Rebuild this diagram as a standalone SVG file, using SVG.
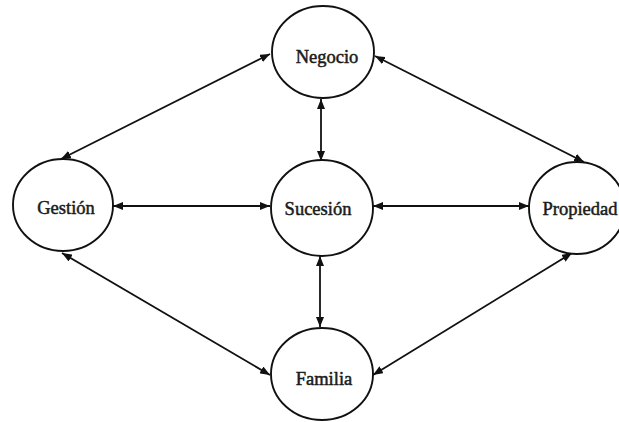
<svg xmlns="http://www.w3.org/2000/svg" width="619" height="422" viewBox="0 0 619 422">
  <style>
    .node ellipse { fill: #ffffff; stroke: #111111; stroke-width: 1.9; }
    .node text { font-family: "Liberation Serif", "Times New Roman", serif; font-size: 18.5px; fill: #1a1a1a; stroke: #1a1a1a; stroke-width: 0.5; text-anchor: middle; }
    .edges line { stroke: #111111; stroke-width: 1.8; marker-start: url(#head); marker-end: url(#head); }
  </style>
  <defs>
    <marker id="head" viewBox="0 0 10 8" refX="10" refY="4" markerWidth="10" markerHeight="8" markerUnits="userSpaceOnUse" orient="auto-start-reverse">
      <path d="M0,0 L10,4 L0,8 Z" fill="#111111"/>
    </marker>
  </defs>
  <rect width="619" height="422" fill="#ffffff"/>

  <g class="edges" id="connectors">
    <line x1="270" y1="54" x2="61" y2="159"/>
    <line x1="375" y1="56" x2="584" y2="162"/>
    <line x1="62" y1="253" x2="270" y2="375"/>
    <line x1="373" y1="375" x2="572" y2="253"/>
    <line x1="113" y1="206" x2="270" y2="206"/>
    <line x1="373" y1="206" x2="529" y2="206"/>
    <line x1="321" y1="99" x2="321" y2="161"/>
    <line x1="320" y1="256" x2="320" y2="327"/>
  </g>

  <g class="node" id="negocio">
    <ellipse cx="323" cy="52" rx="51" ry="46"/>
    <text x="327" y="63">Negocio</text>
  </g>
  <g class="node" id="gestion">
    <ellipse cx="63" cy="205" rx="50" ry="46"/>
    <text x="66" y="214">Gestión</text>
  </g>
  <g class="node" id="sucesion">
    <ellipse cx="322" cy="208" rx="51" ry="48"/>
    <text x="318" y="215">Sucesión</text>
  </g>
  <g class="node" id="propiedad">
    <ellipse cx="577" cy="208" rx="48" ry="46"/>
    <text x="580" y="215">Propiedad</text>
  </g>
  <g class="node" id="familia">
    <ellipse cx="322" cy="374" rx="51" ry="46"/>
    <text x="324" y="385">Familia</text>
  </g>
</svg>
